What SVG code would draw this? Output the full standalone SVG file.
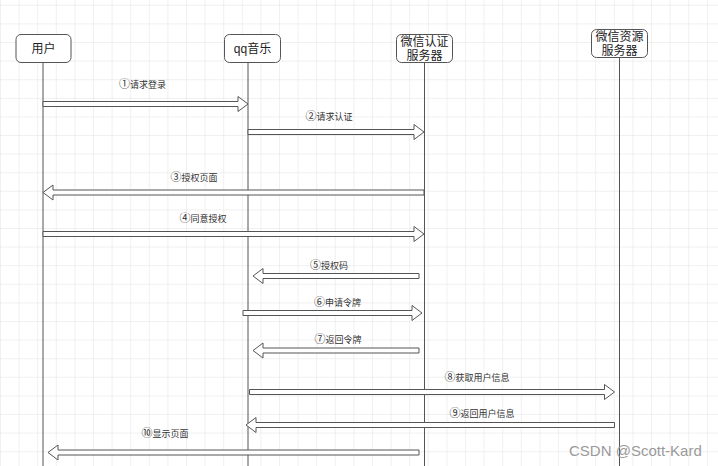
<svg xmlns="http://www.w3.org/2000/svg" width="718" height="466" viewBox="0 0 718 466">
<defs>
<pattern id="grid" patternUnits="userSpaceOnUse" x="0" y="4.8" width="18.6" height="18.6">
<path d="M0 0H18.6M0 0V18.6" fill="none" stroke="#e2e2e2" stroke-width="1"/>
</pattern>
<style>
.node rect{fill:#fff;stroke:#555;stroke-width:1}
.nt{font-family:"Liberation Sans","Noto Sans CJK SC",sans-serif;font-size:12px;fill:#222;text-anchor:middle}
.life{stroke:#555;stroke-width:1;fill:none}
.arr{fill:#fff;stroke:#555;stroke-width:1;stroke-linejoin:miter}
.lbl{font-family:"Noto Sans CJK SC",sans-serif;font-size:9px;fill:#333;text-anchor:middle}
.lbl .n{font-size:11px}
.wm{font-family:"Liberation Sans",sans-serif;font-size:15px;fill:#9a9a9a}
</style>
</defs>
<rect width="718" height="466" fill="#fff"/>
<rect width="718" height="466" fill="url(#grid)"/>

<g id="lifelines">
<path class="life" d="M43 62.5V466"/>
<path class="life" d="M248 62.5V466"/>
<path class="life" d="M424.5 62.5V466"/>
<path class="life" d="M619.5 57.5V466"/>
</g>

<g id="connectors">
<path class="arr" d="M43 101.5H238V96.5L248 104L238 111.5V106.5H43Z"/>
<path class="arr" d="M248 129.5H414V124.5L424 132L414 139.5V134.5H248Z"/>
<path class="arr" d="M424 190H53V185L43 192.5L53 200V195H424Z"/>
<path class="arr" d="M43 231.5H414V226.5L424 234L414 241.5V236.5H43Z"/>
<path class="arr" d="M419 273.5H263V268.5L253 276L263 283.5V278.5H419Z"/>
<path class="arr" d="M243 310.5H412V305.5L422 313L412 320.5V315.5H243Z"/>
<path class="arr" d="M419 348H263V343L253 350.5L263 358V353H419Z"/>
<path class="arr" d="M249.5 389.5H604.5V384.5L614.5 392L604.5 399.5V394.5H249.5Z"/>
<path class="arr" d="M614.5 422.5H256V417.5L246 425L256 432.5V427.5H614.5Z"/>
<path class="arr" d="M419 450H58V445L48 452.5L58 460V455H419Z"/>
<text class="lbl" x="142.5" y="87.5"><tspan class="n">①</tspan>请求登录</text>
<text class="lbl" x="329" y="120"><tspan class="n">②</tspan>请求认证</text>
<text class="lbl" x="194" y="181"><tspan class="n">③</tspan>授权页面</text>
<text class="lbl" x="203" y="222.2"><tspan class="n">④</tspan>同意授权</text>
<text class="lbl" x="329" y="268.5"><tspan class="n">⑤</tspan>授权码</text>
<text class="lbl" x="337.5" y="306"><tspan class="n">⑥</tspan>申请令牌</text>
<text class="lbl" x="338" y="343.2"><tspan class="n">⑦</tspan>返回令牌</text>
<text class="lbl" x="477" y="380.5"><tspan class="n">⑧</tspan>获取用户信息</text>
<text class="lbl" x="482" y="417.2"><tspan class="n">⑨</tspan>返回用户信息</text>
<text class="lbl" x="165" y="436.5"><tspan class="n">⑩</tspan>显示页面</text>
</g>

<g id="user" class="node">
<rect x="16" y="34.5" width="55" height="28" rx="5"/>
<text class="nt" x="43.5" y="52.5">用户</text>
</g>
<g id="qqmusic" class="node">
<rect x="224.5" y="34.5" width="56" height="28" rx="5"/>
<text class="nt" x="252.5" y="52.5">qq音乐</text>
</g>
<g id="auth-server" class="node">
<rect x="396.5" y="34.5" width="56" height="28" rx="5"/>
<text class="nt" x="424.5" y="46">微信认证</text>
<text class="nt" x="424.5" y="59.5">服务器</text>
</g>
<g id="resource-server" class="node">
<rect x="591.5" y="29.5" width="56" height="28" rx="5"/>
<text class="nt" x="619.5" y="41">微信资源</text>
<text class="nt" x="619.5" y="54.5">服务器</text>
</g>

<text class="wm" x="569" y="456">CSDN @Scott-Kard</text>
</svg>
